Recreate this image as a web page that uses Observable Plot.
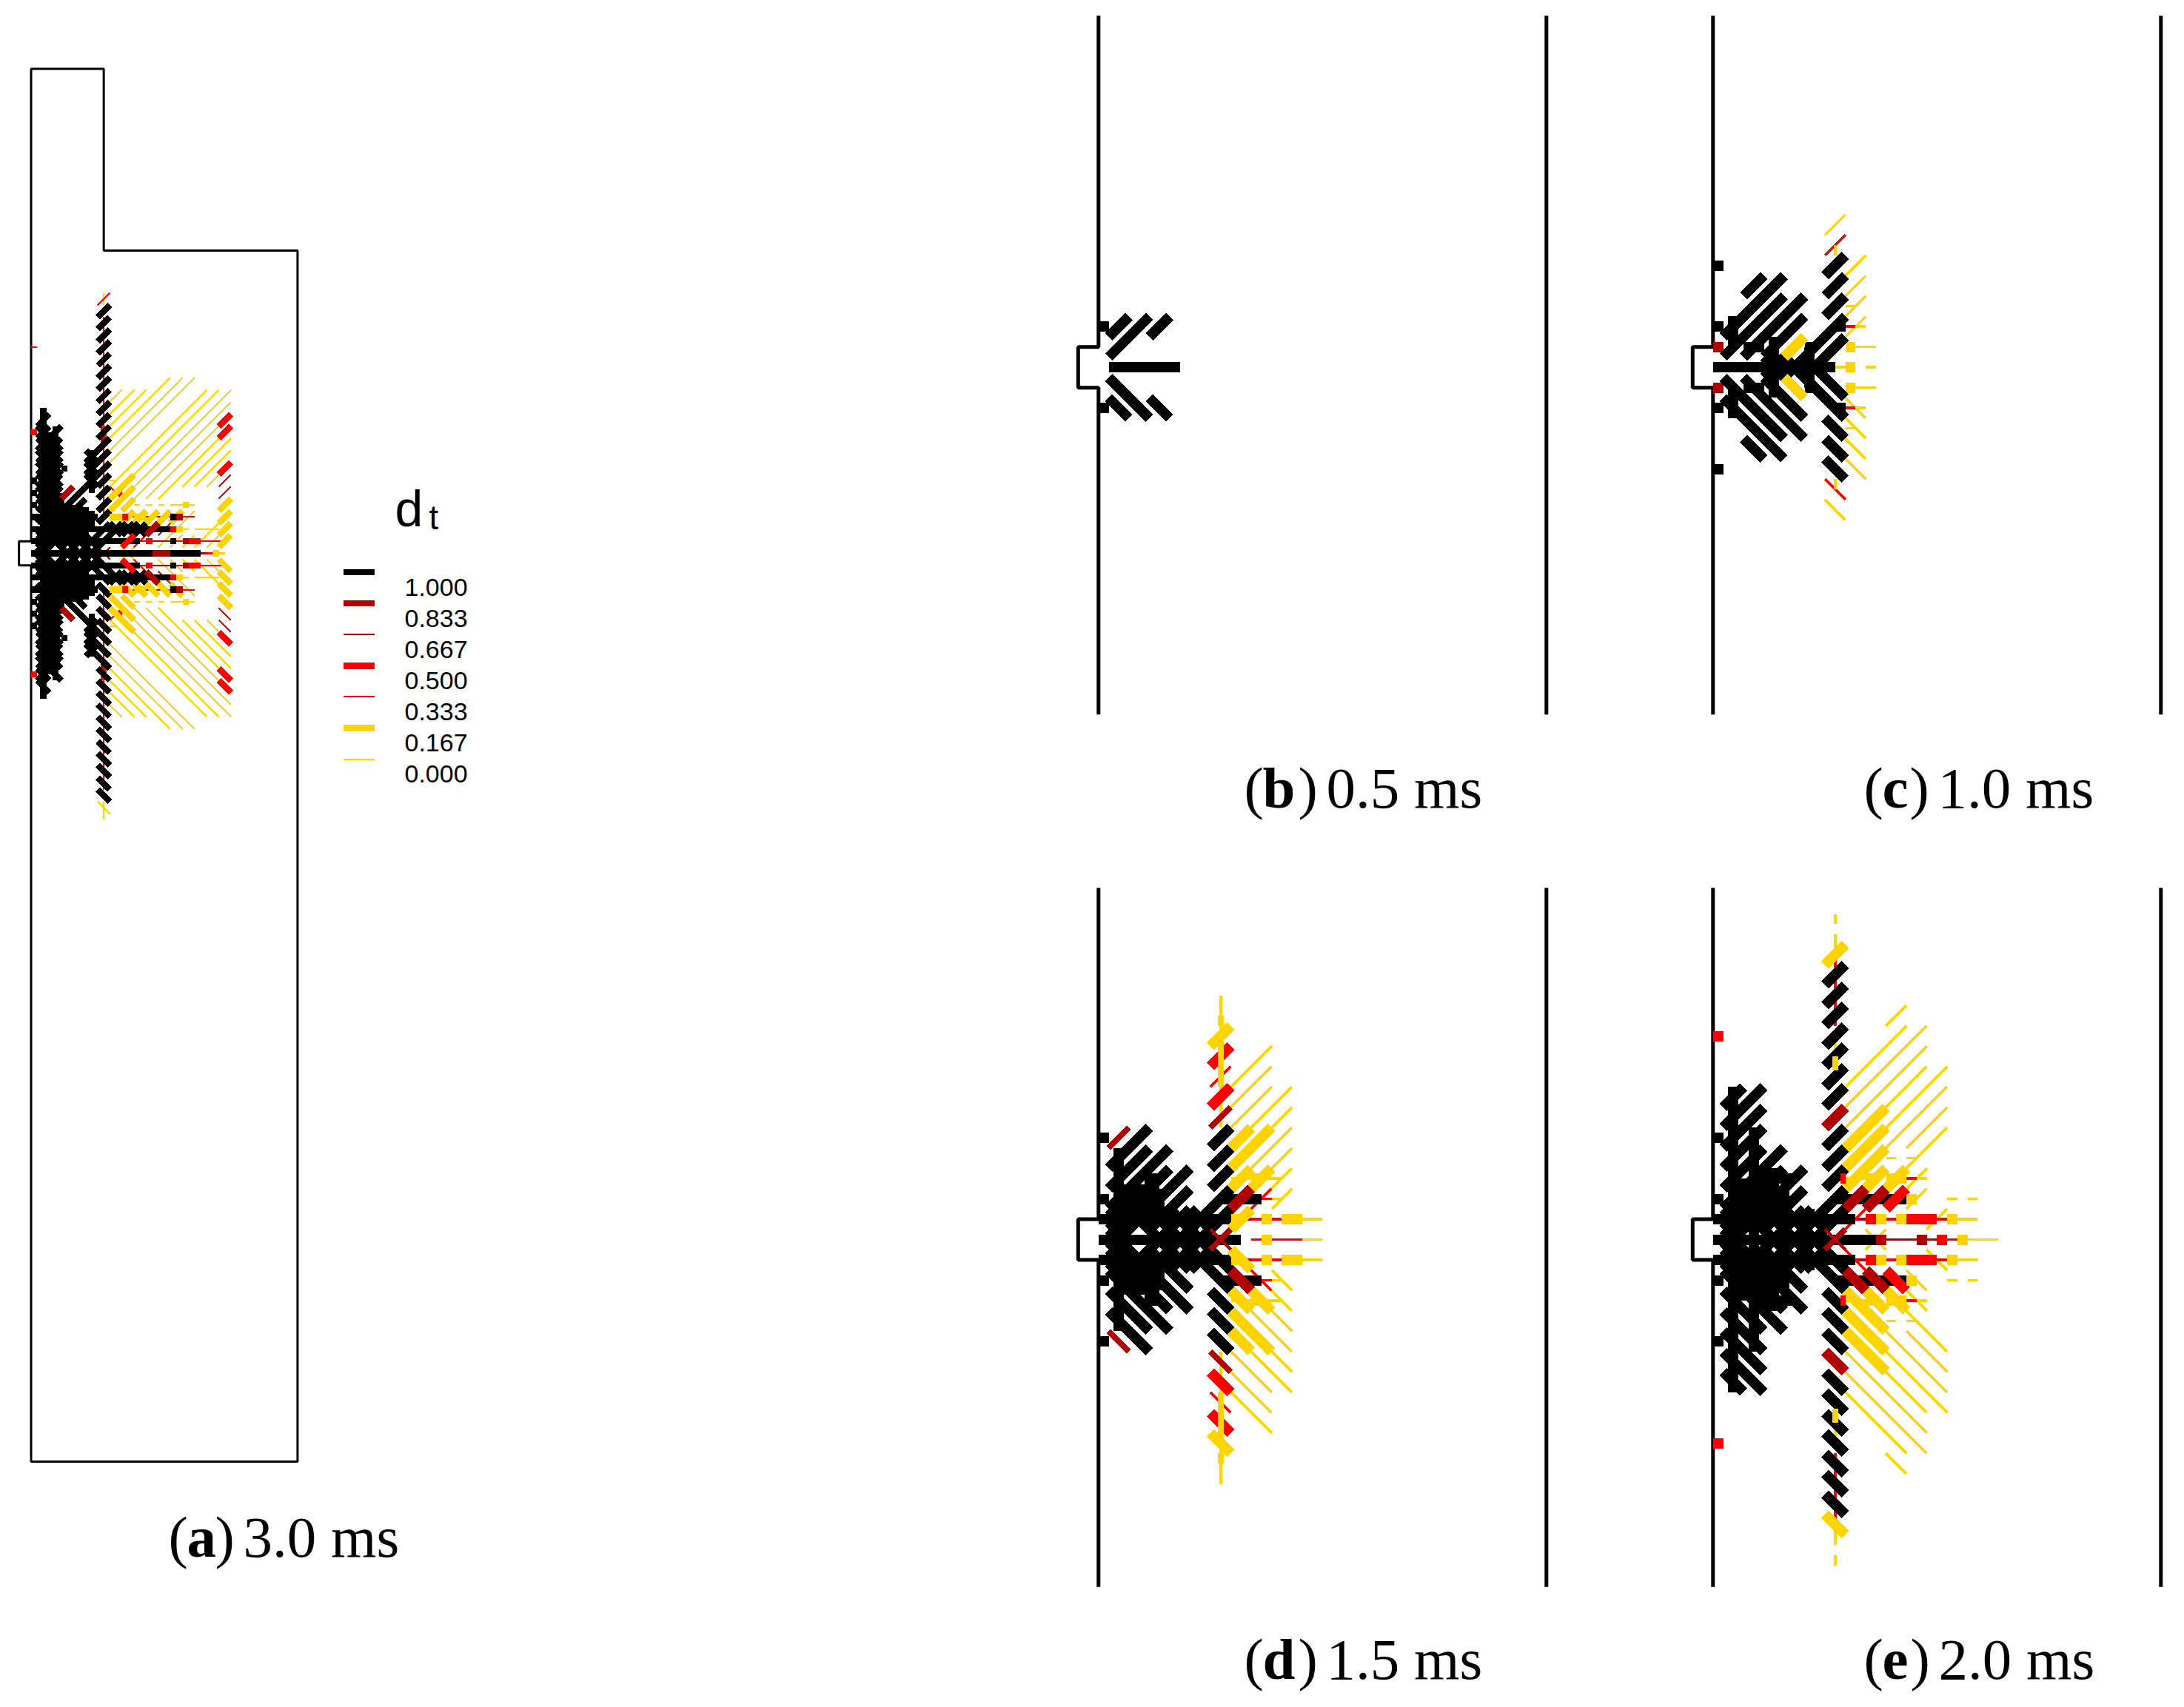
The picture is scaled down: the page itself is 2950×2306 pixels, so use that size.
<!DOCTYPE html>
<html><head><meta charset="utf-8">
<script src="https://cdn.jsdelivr.net/npm/d3@7"></script>
<script src="https://cdn.jsdelivr.net/npm/@observablehq/plot@0.6"></script>
<style>html,body{margin:0;padding:0;background:#fff}svg{display:block}</style>
</head><body><div id="chart"></div>
<script>
// damage levels and colours
const levels = [1, 0.833, 0.667, 0.5, 0.333, 0.167, 0];
const levelLabels = ["1.000","0.833","0.667","0.500","0.333","0.167","0.000"];
const levelColors = ["#000000","#b00000","#b00000","#ff0000","#ff0000","#ffd400","#ffd400"];
const thickLevels = [1, 0.833, 0.5, 0.167];

// mesh edges: [k1, j1, k2, j2, level]; upper half only, the section is symmetric about j = 0
const coreEdges = [
  [1,.5,3,-.5,1],[5,.5,7,-.5,1],[7,.5,9,-.5,1],[9,.5,11,-.5,1],
  [1,-.5,3,-1.5,1],[1,-1.5,3,-.5,1],[3,-.5,5,-1.5,1],[3,-1.5,5,-.5,1],[5,-.5,7,-1.5,1],[5,-1.5,7,-.5,1],
  [7,-.5,9,-1.5,1],[7,-1.5,9,-.5,1],[9,-.5,11,-1.5,1],[9,-1.5,11,-.5,1]
];
const edgesB = [
  [1,0,8,0,1],[1,-.5,5,-2.5,1],[1,-1.5,3,-2.5,1],[5,-1.5,7,-2.5,1],[0,-2,1,-2,1]
];
const edgesC = [
  [11,-6.5,13,-7.5,0],[11,-5.5,13,-6.5,.333],[12,-6,12,-5.5,0],
  [13,-4.5,15,-5.5,0],[13,-3.5,15,-4.5,0],[13,-2.5,15,-3.5,0],[13,-1.5,15,-2.5,0],
  [13,-3,14,-3,0],[13,-2,14,-2,.333],[14,-2,15,-2,0],[14,-1,16,-1,0],[12,0,14,0,0],[15,0,16,0,0],
  [13,-1,14,-1,.167],[13,0,14,0,.167],
  [0,-5,1,-5,1],[0,-2,1,-2,1],[0,-1,1,-1,.833],[0,0,12,0,1],
  [3,-3.5,5,-4.5,1],[1,-1.5,7,-4.5,1],[1,-.5,7,-3.5,1],[3,-.5,9,-3.5,1],[5,-.5,9,-2.5,1],
  [2,-2.5,2,-1,1],[3,-1,5,-1,1],[6,-1.5,6,0,1],[5,.5,7,-.5,1],[7,.5,9,-.5,1],[9,.5,11,-.5,1],
  [9,-.5,13,-2.5,1],[11,-.5,13,-1.5,1],[11,-4.5,13,-5.5,1],[11,-3.5,13,-4.5,1],[11,-2.5,13,-3.5,1],
  [12,-2,13,-2,1],[9,-1,10,-1,1],[9.5,-1,9.5,0,1],[7,-.5,9,-1.5,.167]
];
const edgesD = [
  [12,-12,12,-5.5,0],
  [13,-7.5,17,-9.5,0],[13,-6.5,17,-8.5,0],[13,-5.5,17,-7.5,0],[15,-5.5,19,-7.5,0],[17,-5.5,19,-6.5,0],
  [15,-3.5,19,-5.5,0],[17,-3.5,19,-4.5,0],[17,-2.5,19,-3.5,0],[15,-1.5,17,-2.5,.333],[17,-1.5,19,-2.5,0],
  [13,-3,15,-3,0],[16,-3,18,-3,0],[16,-2,17,-2,.333],[17,-2,18,-2,0],
  [13,-1,15,-1,.667],[15,-1,16,-1,.333],[17,-1,18,-1,.333],[20,-1,22,-1,0],
  [15,0,16,0,.333],[17,0,20,0,.333],[20,0,22,0,0],
  ...coreEdges,
  [0,-5,1,-5,1],[0,-2,1,-2,1],[0,-1,13,-1,1],[0,0,14,0,1],[12,-2,16,-2,1],
  [1,-3.5,5,-5.5,1],[1,-2.5,5,-4.5,1],[3,-2.5,7,-4.5,1],[1,-.5,7,-3.5,1],[3,-.5,9,-3.5,1],[5,-.5,9,-2.5,1],
  [1,-1.5,5,-3.5,1],[2,-4.5,2,0,1],[3,-2.7,3,-1,1],[4,-2.7,4,-1,1],[5,-3.2,5,-1,1],[6,-2.5,6,-1,1],[5.5,-3.25,5.5,-2.5,1],
  [9,-.5,13,-2.5,1],[11,-.5,13,-1.5,1],[11,-4.5,13,-5.5,1],[11,-3.5,13,-4.5,1],[11,-2.5,13,-3.5,1],
  [11,-9.5,13,-10.5,.167],[11,-8.5,13,-9.5,.5],[11,-7.5,13,-8.5,.333],[11,-6.5,13,-7.5,.5],
  [13,-4.5,15,-5.5,.167],[13,-3.5,17,-5.5,.167],[13,-2.5,15,-3.5,.167],[15,-2.5,17,-3.5,.167],
  [13,-1.5,15,-2.5,.833],[13,-.5,15,-1.5,.167],
  [15,-3,16,-3,.167],[13,-1,14,-1,.167],[16,-1,17,-1,.167],[18,-1,20,-1,.167],[16,0,17,0,.167]
];
const edgesDMid = [
  [1,-4.5,3,-5.5,.833],[11,-5.5,13,-6.5,.833],
  [12,-11,12,-10.5,.167],[12,-9.75,12,-7.5,.167]
];
const crossD = [[11,.5,13,-.5,.833]];
const crossDThin = [[11,-.5,13,.5,.833]];
const edgesE = [
  [12,-16,12,-15.5,0],[12,-15,12,-14,0],[12,-14,12,-10.5,.333],[12,-10,12,-8,0],
  [17,-10.5,19,-11.5,0],[13,-7.5,19,-10.5,0],[13,-6.5,21,-10.5,0],[13,-5.5,21,-9.5,0],
  [17,-6.5,21,-8.5,0],[17,-5.5,23,-8.5,0],[17,-4.5,23,-7.5,0],[19,-3.5,23,-5.5,0],[19,-4.5,23,-6.5,0],
  [19,-2.5,21,-3.5,0],[19,-1.5,21,-2.5,0],[21,-.5,23,-1.5,0],[15,-.5,17,.5,0],
  [17,-4,18,-4,0],[19,-4,20,-4,0],[19,-3,20,-3,.333],[20,-3,21,-3,0],[13,-3,15,-3,0],
  [14,-1,15,-1,.667],[17,-1,18,-1,.333],[22,-1,23,-1,.333],[24,-1,26,-1,0],
  [23,-2,24,-2,0],[25,-2,26,-2,0],
  [17,0,20,0,.667],[21,0,22,0,.667],[23,0,24,0,.333],[25,0,28,0,0],[13,-.5,15,-1.5,.333],
  ...coreEdges,
  [0,-10,1,-10,.5],[0,-5,1,-5,1],[0,-2,1,-2,1],[0,-1,14,-1,1],[0,0,16,0,1],[12,-2,19,-2,1],
  [11,-12.5,13,-13.5,1],[11,-11.5,13,-12.5,1],[11,-10.5,13,-11.5,1],[11,-9.5,13,-10.5,1],[11,-8.5,13,-9.5,1],
  [11,-7.5,13,-8.5,1],[11,-6.5,13,-7.5,1],[11,-4.5,13,-5.5,1],[11,-3.5,13,-4.5,1],[11,-2.5,13,-3.5,1],
  [11,-13.5,13,-14.5,.167],[11,-5.5,13,-6.5,.833],
  [2,-7.5,2,0,1],[4,-5.5,4,0,1],[1,-6.5,3,-7.5,1],[1,-5.5,5,-7.5,1],[1,-4.5,5,-6.5,1],[1,-3.5,5,-5.5,1],
  [1,-2.5,5,-4.5,1],[3,-2.5,7,-4.5,1],[1,-.5,7,-3.5,1],[3,-.5,9,-3.5,1],[5,-.5,9,-2.5,1],
  [1,-1.5,5,-3.5,1],[5,-3,8,-3,1],[9,-1,10,-1,1],[9.5,-1.5,9.5,-1,1],[3,-3,3,-1,1],[5,-3.5,5,-1,1],[6,-3.5,6,-1,1],[7,-2.5,7,-1,1],
  [9,-.5,13,-2.5,1],[11,-.5,13,-1.5,1],
  [13,-4.5,17,-6.5,.167],[13,-3.5,17,-5.5,.167],[13,-2.5,17,-4.5,.167],[15,-2.5,17,-3.5,.167],[17,-2.5,19,-3.5,.167],
  [12.5,-3,13,-3,.5],[15,-3,16,-3,.167],[17,-3,19,-3,.167],
  [13,-1.5,15,-2.5,.833],[15,-1.5,17,-2.5,.833],[17,-1.5,19,-2.5,.5],[19,-2,20,-2,.167],
  [15,-1,16,-1,.5],[16,-1,17,-1,.167],[18,-1,19,-1,.167],[19,-1,22,-1,.5],[23,-1,24,-1,.167],
  [16,0,17,0,.833],[20,0,21,0,.833],[22,0,23,0,.5],[24,0,25,0,.167]
];
const edgesEMid = [[12,-9,12,-8.3,.167]];
const crossE = [[11,.5,13,-.5,.833]];
const crossEThin = [[11,-.5,13,.5,.833]];
const edgesA = [
  [12,-19.5,12,-3,.333],[12,-10.5,12,-9.5,.5],[12,-9.5,12,-9,.833],
  [13,-12.5,15,-13.5,0],[13,-11.5,17,-13.5,0],[13,-10.5,19,-13.5,0],[21,-13.5,23,-14.5,0],
  [13,-9.5,23,-14.5,0],[13,-8.5,25,-14.5,0],[13,-7.5,27,-14.5,0],[13,-5.5,29,-13.5,0],
  [13,-4.5,31,-13.5,0],[13,-3.5,33,-13.5,0],[17,-4.5,33,-12.5,0],[19,-4.5,33,-11.5,0],[21,-4.5,33,-10.5,0],
  [25,-5.5,33,-9.5,0],[27,-5.5,33,-8.5,0],[29,-5.5,31,-6.5,0],[31,-12.5,33,-13.5,0],
  [13,-5.5,15,-4.5,.333],[13,-6,14,-6,0],[14,-5,15,-5,.5],
  [21,-.5,23,-1.5,0],[23,-.5,25,-1.5,0],[25,-.5,27,-1.5,0],[27,-.5,29,-1.5,0],[29,-.5,31,-1.5,0],
  [21,-1.5,23,-2.5,.333],[17,-.5,19,-1.5,.333],[23,-1.5,27,-3.5,0],[29,-1.5,33,-3.5,0],
  [17,-4,18,-4,0],[19,-4,20,-4,0],[21,-4,22,-4,0],[23,-4,25,-4,0],[26,-4,27,-4,0],
  [16,-3,17,-3,.333],[19,-3,23,-3,.333],[25,-3,27,-3,.333],[25,-2,26,-2,0],[27,-2,31,-2,0],
  [18,-1,19,-1,.333],[20,-1,23,-1,.667],[24,-1,25,-1,.333],[28,-1,32,-1,.333],[15,-.5,17,.5,0],
  [28,0,29,0,.667],[29,0,30,0,.333],[31,0,32,0,0],
  ...coreEdges,
  [0,-10,1,-10,.5],[0,-6,1,-6,1],[0,-5,1,-5,1],[0,-4,1,-4,1],[0,-3,1,-3,1],[0,-2,1,-2,1],[0,-1,1,-1,1],
  [2,-12,2,0,1],[4,-10.5,4,-1,1],[10,-8.5,10,-5,1],[10,-3.5,10,-2,1],
  [3,-10,3,-1,1],[5,-5,5,-1,1],[6,-4,6,-1,1],[7,-4,7,-1,1],[8,-4,8,-1,1],[9,-3.8,9,-1,1],
  [1,-10.5,3,-11.5,1],[1,-9.5,3,-10.5,1],[1,-8.5,5,-10.5,1],[1,-7.5,5,-9.5,1],[1,-6.5,5,-8.5,1],[1,-5.5,5,-7.5,1],
  [1,-4.5,5,-6.5,1],[1,-3.5,5,-5.5,1],[1,-2.5,5,-4.5,1],[1,-1.5,5,-3.5,1],[1,-.5,7,-3.5,1],[5,-7,6,-7,1],
  [1,-10.5,5,-8.5,1],[1,-9.5,5,-7.5,1],[1,-8.5,5,-6.5,1],[1,-7.5,5,-5.5,1],[1,-6.5,5,-4.5,1],[1,-5.5,5,-3.5,1],[1,-4.5,5,-2.5,1],
  [5,-3.5,9,-5.5,1],[5,-2.5,9,-4.5,1],[3,-.5,9,-3.5,1],[5,-.5,9,-2.5,1],
  [9,-7.5,11,-8.5,1],[9,-6.5,11,-7.5,1],[9,-5.5,11,-6.5,1],[9,-8.5,11,-7.5,1],[9,-7.5,11,-6.5,1],[9,-6.5,11,-5.5,1],
  [0,-1,12,-1,1],[0,-2,12,-2,1],[0,-3,11,-3,1],[0,0,12,0,1],[9,-.5,13,-2.5,1],
  [5,-4.5,7,-5.5,.833],
  [11,-19.5,13,-20.5,1],[11,-18.5,13,-19.5,1],[11,-17.5,13,-18.5,1],[11,-16.5,13,-17.5,1],[11,-15.5,13,-16.5,1],
  [11,-14.5,13,-15.5,1],[11,-13.5,13,-14.5,1],[11,-12.5,13,-13.5,1],[11,-11.5,13,-12.5,1],[11,-10.5,13,-11.5,1],
  [11,-9.5,13,-10.5,1],[11,-8.5,13,-9.5,1],[11,-7.5,13,-8.5,1],[11,-6.5,13,-7.5,1],[11,-5.5,13,-6.5,1],
  [11,-4.5,13,-5.5,1],[11,-3.5,13,-4.5,1],[11,-2.5,13,-3.5,1],[11,-1.5,13,-2.5,1],[11,-.5,13,-1.5,1],
  [13,-4.5,17,-6.5,.167],[13,-3.5,17,-5.5,.167],[15,-3.5,17,-4.5,.167],
  [15,-2.5,17,-3.5,.167],[17,-2.5,19,-3.5,.167],[19,-2.5,21,-3.5,.167],[21,-2.5,23,-3.5,.167],[23,-2.5,25,-3.5,.167],
  [13,-1.5,15,-2.5,1],[15,-1.5,17,-2.5,1],[17,-1.5,19,-2.5,1],[13,-2.5,15,-1.5,1],[15,-2.5,17,-1.5,1],[17,-2.5,19,-1.5,1],
  [25,-4,26,-4,.167],
  [13,-3,15,-3,.167],[15,-3,16,-3,.5],[17,-3,19,-3,.167],[23,-3,24,-3,1],[24,-3,25,-3,.833],
  [12,-2,23,-2,1],[23,-2,24,-2,.5],[24,-2,25,-2,.167],
  [12,-1,18,-1,1],[19,-1,20,-1,.5],[23,-1,24,-1,1],[25,-1,26,-1,.833],[26,-1,28,-1,.5],
  [12,0,20,0,1],[20,0,23,0,.833],[23,0,28,0,1],[30,0,31,0,.167],
  [15,-.5,17,-1.5,.5],[19,-1.5,21,-2.5,.833],
  [31,-10.5,33,-11.5,.5],[31,-9.5,33,-10.5,.5],[31,-6.5,33,-7.5,.5],
  [31,-.5,33,-1.5,.167],[31,-1.5,33,-2.5,.167],[31,-2.5,33,-3.5,.167],[31,-3.5,33,-4.5,.167]
];
const edgesAThin = [
  [31,-11.5,33,-12.5,.333],[31,-8.5,33,-9.5,.667],[31,-7.5,33,-8.5,.667],[31,-5.5,33,-6.5,.333],[31,-4.5,33,-5.5,.333],[11,.5,13,-.5,.667]
];
// the few edges that do not repeat across the axis
const loneA = [[12,-21.5,12,-20.5,0],[11,-20.5,13,-21.5,.333],[0,-17,1,-17,.333],[12,20.5,12,22,0],[11,20.5,13,21.5,0]];

// wall outlines in the same mesh units
const wallLeft = [[0,-17.27],[0,-1],[-2,-1],[-2,1],[0,1],[0,17.06]];
const wallRight = [[44,-17.27],[44,17.06]];
const vesselA = [[0,-1],[-2,-1],[-2,1],[0,1],[0,75],[44,75],[44,-25],[12,-25],[12,-40],[0,-40],[0,-1]];

// panel frames (data unit → page)
const panels = {
  a:{x0:41.5,y0:747,kx:8.18,jy:16.36,s:.595},
  b:{x0:1483.3,y0:495.7,kx:13.75,jy:27.5,s:1},
  c:{x0:2313.3,y0:495.7,kx:13.75,jy:27.5,s:1},
  d:{x0:1483.3,y0:1674,kx:13.75,jy:27.5,s:1},
  e:{x0:2313.3,y0:1674,kx:13.75,jy:27.5,s:1}
};
const captionLetters = ["a","b","c","d","e"];
const captionTimes = ["3.0 ms","0.5 ms","1.0 ms","1.5 ms","2.0 ms"];
const captionX = [227,1680,2517,1680,2517];
const captionY = [2102,1090,1090,2267,2267];

const mirror = rows => rows.flatMap(([a,b,c,d,l]) => [[a,b,c,d,l],[a,-b,c,-d,l]]);
const place = (p, rows, width) => rows.map(([a,b,c,d,l]) => {
  const f = panels[p];
  return {x1:f.x0+a*f.kx, y1:f.y0+b*f.jy, x2:f.x0+c*f.kx, y2:f.y0+d*f.jy, level:l,
          w:(width ?? (thickLevels.includes(l)?14:3.5))*f.s};
});
const seg = (p, rows, width) => place(p, mirror(rows), width);
const pts = (p, rows) => rows.map(([k,j]) => ({x:panels[p].x0+k*panels[p].kx, y:panels[p].y0+j*panels[p].jy}));

const edges = [
  ...seg("a",edgesAThin), ...seg("a",edgesA), ...place("a",loneA),
  ...seg("b",edgesB), ...seg("c",edgesC),
  ...seg("d",edgesD), ...seg("d",edgesDMid,8), ...place("d",crossDThin,4), ...place("d",crossD,8),
  ...seg("e",edgesE), ...seg("e",edgesEMid,8), ...place("e",crossEThin,4), ...place("e",crossE,8)
];
const colorOf = d3.scaleOrdinal(levels, levelColors);
const walls = ["b","c","d","e"].flatMap(p => [
  {id:p+"L",pts:pts(p,wallLeft)},{id:p+"R",pts:pts(p,wallRight)}
]);
const legendRows = levels.map((l,i) => ({l, label:levelLabels[i], i}));
const capRows = captionLetters.map((l,i) => ({l, t:captionTimes[i], x:captionX[i], y:captionY[i]}));
const letterW = {a:36,b:46,c:35,d:46,e:36};
const serif = "'Liberation Serif', serif";
const capStyle = {fontFamily:serif, fontSize:79, textAnchor:"start", lineAnchor:"bottom", fill:"#000"};

const chart = Plot.plot({
  width:2950, height:2306, margin:0,
  style:{background:"#fff"},
  x:{domain:[0,2950], range:[0,2950], axis:null},
  y:{domain:[0,2306], range:[0,2306], axis:null},
  marks:[
    ...walls.map(w => Plot.line(w.pts,{x:"x",y:"y",stroke:"#000",strokeWidth:5,strokeLinejoin:"miter",strokeLinecap:"butt"})),
    Plot.line(pts("a",vesselA),{x:"x",y:"y",stroke:"#000",strokeWidth:3,strokeLinejoin:"miter",strokeLinecap:"butt"}),
    Plot.link(edges,{x1:"x1",y1:"y1",x2:"x2",y2:"y2",stroke:d=>colorOf(d.level),strokeWidth:"w",shapeRendering:"crispEdges"}),
    // legend
    Plot.link(legendRows,{x1:()=>463,x2:()=>505,y1:d=>772.5+d.i*42.1,y2:d=>772.5+d.i*42.1,
      stroke:d=>colorOf(d.l),strokeWidth:d=>thickLevels.includes(d.l)?8.5:2,shapeRendering:"crispEdges"}),
    Plot.text(legendRows,{x:()=>546,y:d=>804+d.i*42.1,text:"label",fontFamily:"'Liberation Sans', sans-serif",fontSize:34,textAnchor:"start",lineAnchor:"bottom",fill:"#000"}),
    Plot.text(["d"],{x:()=>533,y:()=>710,text:d=>d,fontFamily:"'Liberation Sans', sans-serif",fontSize:68,textAnchor:"start",lineAnchor:"bottom",fill:"#000"}),
    Plot.text(["t"],{x:()=>579,y:()=>714,text:d=>d,fontFamily:"'Liberation Sans', sans-serif",fontSize:46,textAnchor:"start",lineAnchor:"bottom",fill:"#000"}),
    // captions
    Plot.text(capRows,{...capStyle,x:"x",y:"y",text:()=>"("}),
    Plot.text(capRows,{...capStyle,x:d=>d.x+25,y:"y",text:"l",fontWeight:"bold"}),
    Plot.text(capRows,{...capStyle,x:d=>d.x+27+letterW[d.l],y:"y",text:()=>")"}),
    Plot.text(capRows,{...capStyle,x:d=>d.x+47+letterW[d.l]+18,y:"y",text:"t"})
  ]
});
document.getElementById("chart").appendChild(chart);
</script></body></html>
